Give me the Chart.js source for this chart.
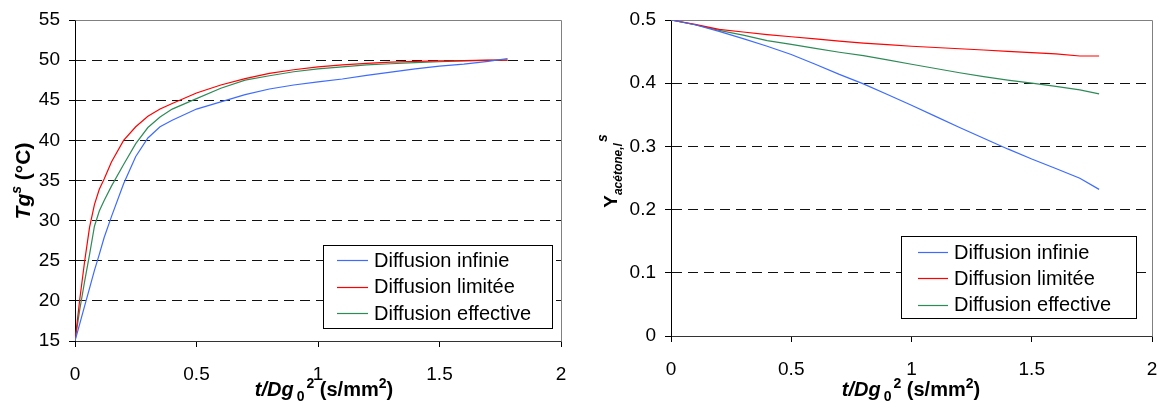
<!DOCTYPE html>
<html>
<head>
<meta charset="utf-8">
<script src="https://cdn.jsdelivr.net/npm/chart.js@4/dist/chart.umd.min.js"></script>
<style>
  html, body { margin: 0; padding: 0; background: #fff; }
  #wrap { position: relative; width: 1158px; height: 403px; overflow: hidden; }
  #wrap canvas { position: absolute; top: 0; }
</style>
</head>
<body>
<div id="wrap">
  <canvas id="chartTg" width="579" height="403" style="left:0"></canvas>
  <canvas id="chartY" width="579" height="403" style="left:579px"></canvas>
</div>
<script>
// Series names and colours shared by both panels
const seriesNames = ['Diffusion infinie', 'Diffusion limitée', 'Diffusion effective'];
const seriesColors = ['#3d6bff', '#ff0000', '#2e8b57'];

// Left panel: surface glass transition temperature Tg^s (°C) vs t/Dg0^2
const tgTime = [0, 0.02, 0.04, 0.06, 0.08, 0.10, 0.12, 0.15, 0.20, 0.25, 0.30, 0.35, 0.40, 0.50,
                0.60, 0.70, 0.80, 0.90, 1.00, 1.10, 1.20, 1.30, 1.40, 1.50, 1.60, 1.70, 1.78];
const tgInfinie = [15, 17.2, 19.4, 21.6, 23.8, 25.8, 27.9, 30.5, 34.6, 38.0, 40.3, 41.7, 42.5, 43.9,
                   44.8, 45.7, 46.4, 46.9, 47.3, 47.65, 48.1, 48.5, 48.9, 49.25, 49.5, 49.85, 50.2];
const tgLimitee = [15, 20.3, 25.0, 29.2, 32.0, 33.9, 35.2, 37.3, 40.0, 41.7, 43.0, 43.9, 44.6, 45.9,
                   46.9, 47.7, 48.35, 48.8, 49.15, 49.4, 49.6, 49.75, 49.85, 49.9, 49.95, 50.0, 50.0];
const tgEffective = [15, 19.0, 22.5, 25.8, 29.3, 31.2, 32.5, 34.3, 37.0, 39.6, 41.6, 42.9, 43.9, 45.2,
                     46.5, 47.5, 48.05, 48.55, 48.9, 49.15, 49.4, 49.55, 49.7, 49.8, 49.9, 49.97, 50.0];
const tgTicksY = { min: 15, max: 55, step: 5 };

// Right panel: surface acetone mass fraction Y_acétone,l^s vs t/Dg0^2
const yTime = [0, 0.1, 0.2, 0.3, 0.4, 0.5, 0.6, 0.7, 0.8, 0.9, 1.0, 1.1, 1.2, 1.3, 1.4, 1.5, 1.6, 1.7, 1.78];
const yInfinie = [0.5, 0.4925, 0.482, 0.4705, 0.4585, 0.4454, 0.430, 0.414, 0.399, 0.382,
                  0.365, 0.3475, 0.330, 0.313, 0.296, 0.280, 0.265, 0.2495, 0.232];
const yLimitee = [0.5, 0.493, 0.4853, 0.481, 0.477, 0.4735, 0.470, 0.4665, 0.4635, 0.461,
                  0.4585, 0.4565, 0.4545, 0.4525, 0.4505, 0.4485, 0.4465, 0.443, 0.443];
const yEffective = [0.5, 0.4925, 0.4835, 0.476, 0.4675, 0.4615, 0.455, 0.449, 0.4435, 0.437,
                    0.430, 0.4233, 0.4165, 0.4104, 0.405, 0.400, 0.395, 0.3895, 0.383];
const yTicksY = { min: 0, max: 0.5, step: 0.1 };

const xTicks = { min: 0, max: 2, step: 0.5 };

const FONT = "'Liberation Sans', Arial, sans-serif";

function toPoints(xs, ys) {
  return xs.map((x, i) => ({ x: x, y: ys[i] }));
}

function buildDatasets(xs, seriesList) {
  return seriesList.map((ys, i) => ({
    label: seriesNames[i],
    data: toPoints(xs, ys),
    borderColor: seriesColors[i],
    backgroundColor: seriesColors[i],
    borderWidth: 1.2,
    pointRadius: 0,
    showLine: true,
    tension: 0,
    fill: false
  }));
}

// Mixed-style text (italic, subscripts, superscripts) laid out along one baseline
function drawRich(ctx, runs, x, y, angle) {
  ctx.save();
  ctx.translate(x, y);
  ctx.rotate(angle);
  ctx.textAlign = 'left';
  ctx.textBaseline = 'alphabetic';
  ctx.fillStyle = '#000';
  let total = 0;
  runs.forEach(r => {
    ctx.font = r.font;
    r.w = ctx.measureText(r.text).width;
    total += r.w + (r.gap || 0);
  });
  let cx = -total / 2;
  runs.forEach(r => {
    ctx.font = r.font;
    cx += (r.gap || 0);
    ctx.fillText(r.text, cx, r.dy || 0);
    cx += r.w;
  });
  ctx.restore();
}

const xTitleRuns = () => [
  { text: 't/Dg', font: `italic bold 20px ${FONT}` },
  { text: '0', font: `bold 14px ${FONT}`, dy: 5, gap: 3 },
  { text: '2', font: `bold 14px ${FONT}`, dy: -8, gap: 2 },
  { text: ' (s/mm', font: `bold 20px ${FONT}` },
  { text: '2', font: `bold 14px ${FONT}`, dy: -8 },
  { text: ')', font: `bold 20px ${FONT}` }
];

// Frame, axis titles and boxed legend for one panel
function panelPlugin(cfg) {
  return {
    id: 'panelDecor',
    beforeDatasetsDraw(chart) {
      const { ctx, chartArea: a } = chart;
      ctx.save();
      ctx.strokeStyle = '#808080';
      ctx.lineWidth = 1;
      ctx.beginPath();
      ctx.moveTo(Math.round(a.left) + 0.5, Math.round(a.top) + 0.5);
      ctx.lineTo(Math.round(a.right) + 0.5, Math.round(a.top) + 0.5);
      ctx.lineTo(Math.round(a.right) + 0.5, Math.round(a.bottom) + 0.5);
      ctx.stroke();
      ctx.restore();
    },
    afterDraw(chart) {
      const { ctx } = chart;
      drawRich(ctx, cfg.yTitle, cfg.yTitlePos[0], cfg.yTitlePos[1], -Math.PI / 2);
      drawRich(ctx, xTitleRuns(), cfg.xTitlePos[0], cfg.xTitlePos[1], 0);

      const L = cfg.legend;
      ctx.save();
      ctx.fillStyle = '#fff';
      ctx.fillRect(L.x, L.y, L.w, L.h);
      ctx.strokeStyle = '#000';
      ctx.lineWidth = 1;
      ctx.strokeRect(L.x + 0.5, L.y + 0.5, L.w, L.h);
      ctx.font = `20px ${FONT}`;
      ctx.textBaseline = 'middle';
      ctx.textAlign = 'left';
      chart.data.datasets.forEach((ds, i) => {
        const cy = L.y + L.row0 + i * L.rowGap;
        ctx.strokeStyle = ds.borderColor;
        ctx.lineWidth = 1.2;
        ctx.beginPath();
        ctx.moveTo(L.x + L.lineX0, Math.round(cy) + 0.5);
        ctx.lineTo(L.x + L.lineX1, Math.round(cy) + 0.5);
        ctx.stroke();
        ctx.fillStyle = '#000';
        ctx.fillText(ds.label, L.x + L.textX, cy + 1);
      });
      ctx.restore();
    }
  };
}

function makeChart(canvasId, xs, series, yT, cfg) {
  const yMin = yT.min, yMax = yT.max;
  return new Chart(document.getElementById(canvasId), {
    type: 'scatter',
    data: { datasets: buildDatasets(xs, series) },
    options: {
      responsive: false,
      devicePixelRatio: 1,
      animation: false,
      events: [],
      layout: { padding: cfg.padding },
      plugins: { legend: { display: false }, tooltip: { enabled: false } },
      scales: {
        x: {
          type: 'linear',
          min: xTicks.min, max: xTicks.max,
          afterFit(scale) {
            scale.height = cfg.xAxisHeight;
            scale.paddingLeft = 0;
            scale.paddingRight = 0;
          },
          ticks: {
            stepSize: xTicks.step,
            color: '#000',
            padding: 16,
            maxRotation: 0,
            font: { family: FONT, size: 19 },
            callback: v => String(v)
          },
          grid: { drawOnChartArea: false, drawTicks: true, tickLength: 6, tickColor: '#000', color: '#000' },
          border: { display: true, color: '#333', width: 1 }
        },
        y: {
          type: 'linear',
          min: yMin, max: yMax,
          afterFit(scale) {
            scale.width = cfg.yAxisWidth;
            scale.paddingTop = 0;
            scale.paddingBottom = 0;
          },
          ticks: {
            stepSize: yT.step,
            color: '#000',
            padding: 9,
            font: { family: FONT, size: 19 },
            callback: v => String(Math.round(v * 10) / 10)
          },
          grid: {
            color: c => {
              const v = c.tick ? c.tick.value : null;
              return (v === null || Math.abs(v - yMin) < 1e-9 || Math.abs(v - yMax) < 1e-9) ? 'rgba(0,0,0,0)' : '#111';
            },
            tickColor: '#000',
            tickLength: 6,
            lineWidth: 1
          },
          border: { display: true, color: '#000', width: 1, dash: [10, 6] }
        }
      }
    },
    plugins: [panelPlugin(cfg)]
  });
}

makeChart('chartTg', tgTime, [tgInfinie, tgLimitee, tgEffective], tgTicksY, {
  padding: { top: 20, right: 18, left: 0, bottom: 0 },
  yAxisWidth: 75,
  xAxisHeight: 62,
  yTitle: [
    { text: 'Tg', font: `italic bold 21px ${FONT}` },
    { text: 's', font: `italic bold 14px ${FONT}`, dy: -9 },
    { text: ' (°C)', font: `bold 21px ${FONT}` }
  ],
  yTitlePos: [30, 181],
  xTitlePos: [324, 396],
  legend: { x: 323, y: 245, w: 229, h: 83, row0: 15, rowGap: 26.5, lineX0: 14, lineX1: 45, textX: 51 }
});

makeChart('chartY', yTime, [yInfinie, yLimitee, yEffective], yTicksY, {
  padding: { top: 20, right: 6, left: 0, bottom: 0 },
  yAxisWidth: 92,
  xAxisHeight: 67,
  yTitle: [
    { text: 'Y', font: `bold 19px ${FONT}` },
    { text: 'acétone,l', font: `italic bold 12px ${FONT}`, dy: 5 },
    { text: 's', font: `italic bold 14px ${FONT}`, dy: -10, gap: 1 }
  ],
  yTitlePos: [617 - 579, 171],
  xTitlePos: [911 - 579, 396],
  legend: { x: 901 - 579, y: 236, w: 235, h: 82, row0: 16, rowGap: 26.3, lineX0: 17, lineX1: 47, textX: 53 }
});
</script>
</body>
</html>
